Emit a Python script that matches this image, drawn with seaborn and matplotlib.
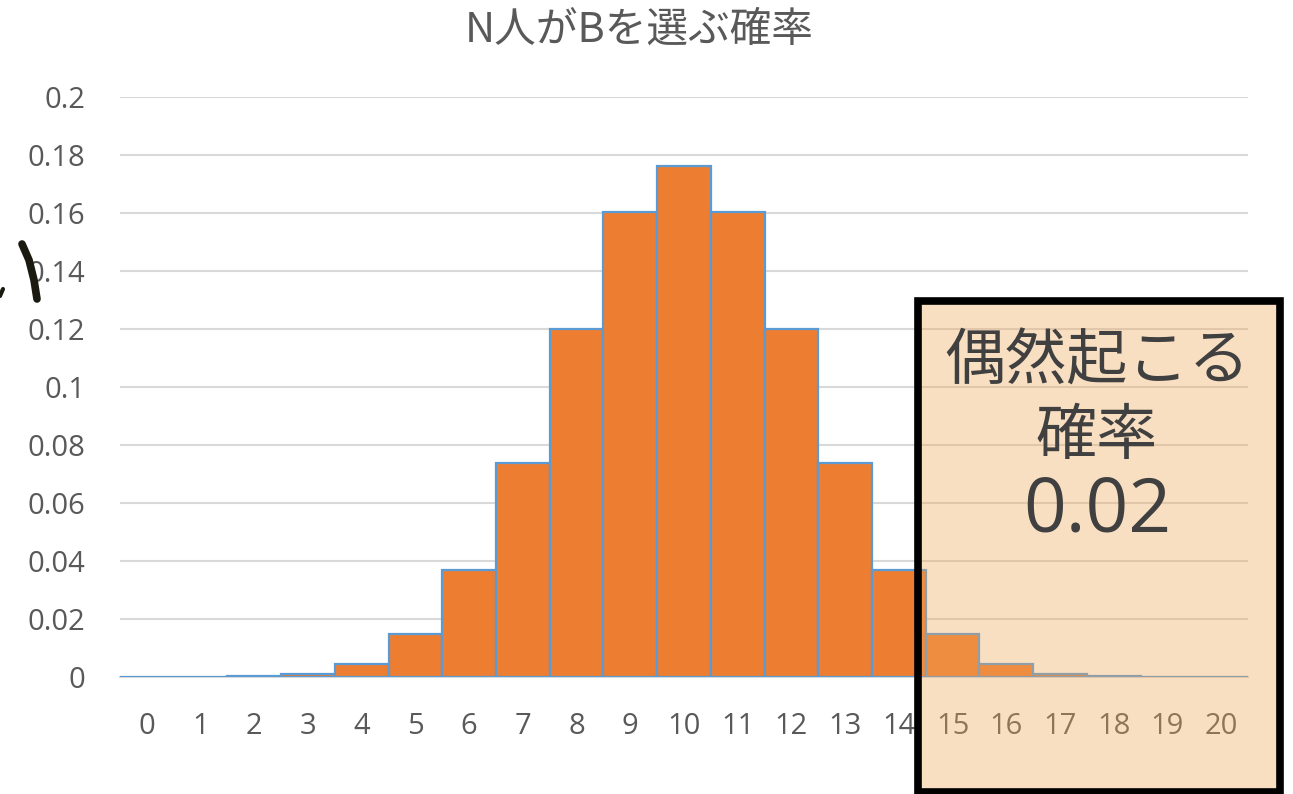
import matplotlib
matplotlib.use("Agg")
import matplotlib.pyplot as plt
import seaborn as sns
import pandas as pd
from matplotlib.patches import Rectangle
from matplotlib.lines import Line2D

# Number of people choosing B (out of 20) and the probability of each count
counts = [str(k) for k in range(21)]
probabilities = [
    0.00000095, 0.000019, 0.000181, 0.001087, 0.004621, 0.014786,
    0.036964, 0.073929, 0.120134, 0.160179, 0.176197, 0.160179,
    0.120134, 0.073929, 0.036964, 0.014786, 0.004621, 0.001087,
    0.000181, 0.000019, 0.00000095,
]
y_ticks = [0, 0.02, 0.04, 0.06, 0.08, 0.10, 0.12, 0.14, 0.16, 0.18, 0.20]
y_tick_labels = ["0", "0.02", "0.04", "0.06", "0.08", "0.1", "0.12",
                 "0.14", "0.16", "0.18", "0.2"]
title = "N人がBを選ぶ確率"
note_lines = ["偶然起こる", "確率"]
note_value = "0.02"

sns.set_theme(style="white")
plt.rcParams["font.family"] = ["Open Sans", "Noto Sans CJK JP", "DejaVu Sans"]

df = pd.DataFrame({"count": counts, "prob": probabilities})

fig = plt.figure(figsize=(12.93, 7.94), dpi=100)
ax = fig.add_axes([120 / 1293, 1 - 677 / 794, 1128 / 1293, 580 / 794])

sns.barplot(data=df, x="count", y="prob", order=counts, width=1.0,
            color="#ED7D31", edgecolor="#5B9BD5", linewidth=1.6,
            saturation=1, ax=ax, zorder=3)

ax.set_ylim(0, 0.2)
ax.set_xlim(-0.5, 20.5)
ax.set_yticks(y_ticks)
ax.set_yticklabels(y_tick_labels)
ax.set_xlabel("")
ax.set_ylabel("")
ax.grid(axis="y", color="#D9D9D9", linewidth=1.5, zorder=0)
ax.set_axisbelow(True)
for side in ["top", "right", "left"]:
    ax.spines[side].set_visible(False)
ax.spines["bottom"].set_color("#D9D9D9")
ax.spines["bottom"].set_linewidth(1.5)
ax.tick_params(axis="y", length=0, pad=25, labelsize=21, labelcolor="#595959")
ax.tick_params(axis="x", length=0, pad=25, labelsize=21, labelcolor="#595959")

fig.text(639 / 1293, 1 - 30 / 794, title, ha="center", va="center",
         fontsize=30, color="#595959",
         family=["Noto Sans CJK JP", "DejaVu Sans"])

# Translucent highlight over the upper tail
fig.patches.append(Rectangle((918 / 1293, 1 - 792 / 794), 362 / 1293, 491 / 794,
                             transform=fig.transFigure, facecolor="#F0A758",
                             alpha=0.36, edgecolor="none", zorder=10))
fig.patches.append(Rectangle((918 / 1293, 1 - 792 / 794), 362 / 1293, 491 / 794,
                             transform=fig.transFigure, facecolor="none",
                             edgecolor="#000000", linewidth=5.5, zorder=11))
fig.text(1097 / 1293, 1 - 362 / 794, note_lines[0], ha="center", va="center",
         fontsize=44, color="#404040", zorder=12,
         family=["Noto Sans CJK JP", "DejaVu Sans"])
fig.text(1097 / 1293, 1 - 437 / 794, note_lines[1], ha="center", va="center",
         fontsize=44, color="#404040", zorder=12,
         family=["Noto Sans CJK JP", "DejaVu Sans"])
fig.text(1097 / 1293, 1 - 512 / 794, note_value, ha="center", va="center",
         fontsize=54, color="#404040", zorder=12,
         family=["Open Sans", "DejaVu Sans"])

# Stray pen strokes at the left margin
fig.lines.append(Line2D([22 / 1293, 29 / 1293, 34 / 1293, 37 / 1293],
                        [1 - 244 / 794, 1 - 260 / 794, 1 - 280 / 794, 1 - 299 / 794],
                        transform=fig.transFigure, color="#1A1A10",
                        linewidth=5.5, solid_capstyle="round"))
fig.lines.append(Line2D([0 / 1293, 3 / 1293], [1 - 296 / 794, 1 - 289 / 794],
                        transform=fig.transFigure, color="#1A1A10",
                        linewidth=3, solid_capstyle="round"))

fig.savefig("out.png", dpi=100)
